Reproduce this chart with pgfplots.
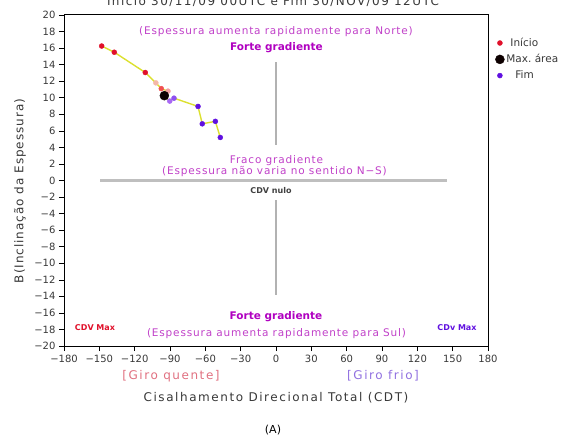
\documentclass[border=0pt]{standalone}
\usepackage{pgfplots}
\pgfplotsset{compat=1.18}
\usepackage{fontspec}
\setmainfont{DejaVu Sans}
\newfontfamily\lsA[LetterSpace=8]{DejaVu Sans}
\newfontfamily\lsB[LetterSpace=13]{DejaVu Sans}
\newfontfamily\lsC[LetterSpace=12]{DejaVu Sans}
\definecolor{cred}{HTML}{E0102A}
\definecolor{cpink1}{HTML}{F4B8A8}
\definecolor{cpink2}{HTML}{F05050}
\definecolor{cpink3}{HTML}{F2A0A0}
\definecolor{cpur1}{HTML}{A868F4}
\definecolor{cpur2}{HTML}{9050F0}
\definecolor{cpur}{HTML}{6010E0}
\definecolor{cyel}{HTML}{DCE030}
\definecolor{cmag}{HTML}{C040C8}
\definecolor{cmagb}{HTML}{B000C0}
\definecolor{cgq}{HTML}{E07080}
\definecolor{cgf}{HTML}{9070E0}
\definecolor{ctxt}{HTML}{383838}
\pgfplotstableread{
x y
-148 16.25
-137.3 15.5
-111 13.05
-102 11.8
-97.4 11.1
-91.7 10.8
-94.8 10.25
-90.2 9.6
-86.6 9.95
-66.2 8.95
-62.6 6.85
-51.5 7.15
-47.3 5.2
}\track
\begin{document}
\begin{tikzpicture}[x=1pt,y=1pt]
\begin{axis}[at={(64pt,91pt)}, anchor=south west, scale only axis,
  width=424pt, height=331pt,
  xmin=-180, xmax=180, ymin=-20, ymax=20,
  xtick={-180,-150,...,180}, ytick={-20,-18,...,20},
  xticklabels={−180,−150,−120,−90,−60,−30,0,30,60,90,120,150,180},
  yticklabels={−20,−18,−16,−14,−12,−10,−8,−6,−4,−2,0,2,4,6,8,10,12,14,16,18,20},
  tick align=outside, tick pos=left, major tick length=5pt,
  axis line style={line width=1pt},
  every tick/.style={black, line width=0.6pt},
  ticklabel style={font=\fontsize{10}{12}\selectfont, text=ctxt},
  xticklabel style={yshift=-1pt},
  clip=false,
  legend style={at={(1.017,0.937)}, anchor=north west, draw=none, fill=none,
    font=\fontsize{10.5}{12}\selectfont, text=ctxt, row sep=2.5pt,
    inner sep=0pt},
  legend cell align=left,
]
% gray guide lines
\addplot[forget plot, color=black!25, line width=3.5pt] coordinates {(-149.4,0) (145.2,0)};
\addplot[forget plot, color=black!30, line width=1.2pt] coordinates {(0,14.3) (0,4.3)};
\addplot[forget plot, color=black!30, line width=1.2pt] coordinates {(0,-2.4) (0,-13.8)};
% track
\addplot[forget plot, color=cyel, line width=1.4pt] table[x=x,y=y] {\track};
\addplot[forget plot, only marks, mark=*, mark size=2.5pt, color=cred] coordinates {(-137.3,15.5) (-111,13.05)};
\addplot[forget plot, only marks, mark=*, mark size=2.5pt, color=cpink1] coordinates {(-102,11.8)};
\addplot[forget plot, only marks, mark=*, mark size=2.5pt, color=cpink2] coordinates {(-97.4,11.1)};
\addplot[forget plot, only marks, mark=*, mark size=2.5pt, color=cpink3] coordinates {(-91.7,10.8)};
\addplot[forget plot, only marks, mark=*, mark size=2.5pt, color=cpur1] coordinates {(-90.2,9.6)};
\addplot[forget plot, only marks, mark=*, mark size=2.5pt, color=cpur2] coordinates {(-86.6,9.95)};
\addplot[forget plot, only marks, mark=*, mark size=2.5pt, color=cpur] coordinates {(-66.2,8.95) (-62.6,6.85) (-51.5,7.15)};
\addplot[only marks, mark=*, mark size=2.5pt, color=cred] coordinates {(-148,16.25)};
\addlegendentry{\hspace{4pt}Início}
\addplot[only marks, mark=*, mark size=4.5pt, color=black!95!red] coordinates {(-94.8,10.25)};
\addlegendentry{Max.\ área}
\addplot[only marks, mark=*, mark size=2.5pt, color=cpur] coordinates {(-47.3,5.2)};
\addlegendentry{\hspace{9pt}Fim}
\end{axis}
% texts (pixel coordinates, y from bottom)
\node[text=ctxt, font=\lsC\fontsize{12}{14}\selectfont] at (273,435) {Inicio 30/11/09 00UTC e Fim 30/NOV/09 12UTC};
\node[text=cmag, font=\lsA\fontsize{10.5}{12}\selectfont] at (276,405) {(Espessura aumenta rapidamente para Norte)};
\node[text=cmagb, font=\fontsize{10.5}{12}\bfseries] at (276.5,389) {Forte gradiente};
\node[text=cmag, font=\lsA\fontsize{10.5}{12}\selectfont] at (276.5,276) {Fraco gradiente};
\node[text=cmag, font=\lsA\fontsize{10.5}{12}\selectfont] at (274.5,265) {(Espessura não varia no sentido N−S)};
\node[text=black!75, font=\fontsize{8}{10}\bfseries] at (271,246) {CDV nulo};
\node[text=cmagb, font=\fontsize{10.5}{12}\bfseries] at (276,120) {Forte gradiente};
\node[text=cmag, font=\lsA\fontsize{10.5}{12}\selectfont] at (276.5,103) {(Espessura aumenta rapidamente para Sul)};
\node[text=cred, font=\fontsize{8}{10}\bfseries] at (95,109) {CDV Max};
\node[text=cpur, font=\fontsize{8}{10}\bfseries] at (457,109) {CDv Max};
\node[text=cgq, font=\lsB\fontsize{12}{14}\selectfont] at (171,61) {[Giro quente]};
\node[text=cgf, font=\lsB\fontsize{12}{14}\selectfont] at (383,61) {[Giro frio]};
\node[text=ctxt, font=\lsB\fontsize{12}{14}\selectfont] at (276,39.5) {Cisalhamento Direcional Total (CDT)};
\node[text=black, font=\fontsize{11}{13}\selectfont] at (273,7) {(A)};
\node[text=ctxt, font=\lsA\fontsize{12}{14}\selectfont, rotate=90] at (20,246) {B(Inclinação da Espessura)};
\pgfresetboundingbox
\useasboundingbox (0,0) rectangle (575,437);
\end{tikzpicture}
\end{document}
